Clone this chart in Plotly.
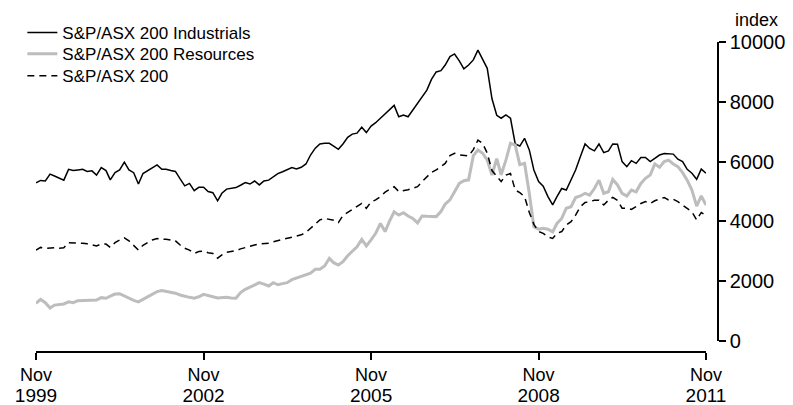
import pandas as pd
import plotly.graph_objects as go

# Monthly, Nov 1999 .. Nov 2011
months = pd.date_range("1999-11-01", "2011-11-01", freq="MS")

industrials = [
    5290, 5370, 5350, 5580, 5520, 5440, 5380, 5740, 5700, 5720,
    5740, 5670, 5690, 5550, 5800, 5700, 5390, 5630, 5720, 5980,
    5720, 5630, 5250, 5600, 5700, 5800, 5890, 5740, 5740, 5700,
    5670, 5420, 5190, 5270, 5030, 5140, 5140, 5000, 4960, 4690,
    4940, 5080, 5110, 5130, 5210, 5300, 5250, 5350, 5220, 5350,
    5380, 5490, 5600, 5660, 5720, 5800, 5750, 5810, 5920, 6220,
    6450, 6590, 6610, 6610, 6520, 6410, 6590, 6810, 6920, 6950,
    7150, 6970, 7190, 7300, 7450, 7600, 7750, 7880, 7500, 7560,
    7500, 7720, 7950, 8170, 8390, 8750, 9000, 9040, 9230, 9510,
    9600, 9370, 9100, 9230, 9400, 9730, 9400, 9120, 8100, 7550,
    7450, 7560, 7450, 6590, 6520, 6780, 6390, 5720, 5330, 5180,
    4830, 4550, 4830, 5100, 5050, 5380, 5720, 6160, 6590, 6440,
    6360, 6590, 6300, 6360, 6590, 6580, 6000, 5830, 6030, 5940,
    6140, 6140, 6000, 6110, 6220, 6270, 6260, 6250, 6080, 6000,
    5740, 5610, 5410, 5750, 5610,
]

resources = [
    1260, 1390, 1280, 1100, 1200, 1230, 1240, 1310, 1280, 1350,
    1350, 1360, 1370, 1370, 1450, 1430, 1500, 1570, 1580, 1500,
    1450, 1360, 1310, 1390, 1500, 1580, 1650, 1690, 1660, 1630,
    1600, 1540, 1490, 1460, 1430, 1480, 1560, 1530, 1480, 1440,
    1450, 1460, 1440, 1430, 1620, 1730, 1800, 1880, 1950, 1900,
    1840, 1950, 1880, 1920, 1950, 2050, 2110, 2150, 2210, 2270,
    2400, 2400, 2510, 2760, 2620, 2540, 2650, 2850, 3000, 3150,
    3400, 3180, 3380, 3600, 3930, 3660, 4000, 4320, 4210, 4290,
    4180, 4100, 3950, 4180, 4170, 4160, 4160, 4330, 4580, 4720,
    4990, 5270, 5360, 5390, 6200, 6390, 6280, 6050, 5550, 6100,
    5560, 6050, 6610, 6550, 5900, 5940, 4940, 3820, 3740, 3770,
    3740, 3650, 3930, 4100, 4440, 4490, 4800, 4850, 4940, 4880,
    5100, 5380, 4940, 4990, 5400, 5220, 4940, 4850, 5050, 4990,
    5270, 5440, 5550, 5920, 5810, 6000, 6050, 5920, 5830, 5630,
    5380, 5050, 4510, 4850, 4550,
]

asx200 = [
    3040, 3130, 3100, 3110, 3120, 3100, 3120, 3290, 3290, 3280,
    3270, 3250, 3210, 3180, 3240, 3240, 3130, 3290, 3380, 3450,
    3350, 3210, 3040, 3200, 3300, 3380, 3430, 3400, 3400, 3370,
    3350, 3210, 3100, 3040, 2930, 2990, 3010, 2950, 2930, 2770,
    2880, 2970, 3000, 3020, 3080, 3130, 3180, 3210, 3250, 3260,
    3270, 3320, 3360, 3380, 3430, 3490, 3510, 3550, 3630, 3770,
    3900, 4050, 4100, 4080, 4040, 3960, 4200, 4300, 4400, 4480,
    4600, 4440, 4650, 4720, 4830, 4980, 5070, 5160, 5000, 5020,
    5060, 5110, 5160, 5330, 5500, 5640, 5720, 5830, 5940, 6200,
    6280, 6220, 6200, 6190, 6400, 6720, 6610, 6280, 5700, 5500,
    5330, 5550, 5600, 5050, 4960, 4830, 4300, 3900, 3660, 3600,
    3480, 3430, 3600, 3660, 3880, 3990, 4210, 4490, 4630, 4660,
    4710, 4710, 4550, 4710, 4800, 4700, 4440, 4440, 4400, 4500,
    4600, 4660, 4600, 4690, 4740, 4800, 4720, 4740, 4660, 4550,
    4440, 4320, 4050, 4300, 4200,
]

x_tick_vals = ["1999-11-01", "2002-11-01", "2005-11-01", "2008-11-01", "2011-11-01"]
x_tick_months = ["Nov"] * 5
x_tick_years = ["1999", "2002", "2005", "2008", "2011"]
y_tick_vals = [0, 2000, 4000, 6000, 8000, 10000]

FONT = "Liberation Sans, Arial, sans-serif"
X_RANGE = ["1999-11-01", "2011-11-01"]

fig = go.Figure()
fig.add_trace(go.Scatter(x=months, y=industrials, mode="lines",
                         name="S&P/ASX 200 Industrials", legend="legend",
                         line=dict(color="black", width=1.5)))
fig.add_trace(go.Scatter(x=months, y=resources, mode="lines",
                         name="S&P/ASX 200 Resources", legend="legend2",
                         line=dict(color="#bdbdbd", width=3)))
fig.add_trace(go.Scatter(x=months, y=asx200, mode="lines",
                         name="S&P/ASX 200", legend="legend3",
                         xaxis="x2", yaxis="y",
                         line=dict(color="black", width=1.5, dash="7px,5px")))

leg_common = dict(x=-0.02, xanchor="left", yanchor="top",
                  font=dict(size=17), bgcolor="rgba(0,0,0,0)", itemclick=False)

fig.update_layout(
    width=785, height=397,
    margin=dict(l=28, r=75, t=34, b=53, autoexpand=False),
    paper_bgcolor="white", plot_bgcolor="white",
    font=dict(family=FONT, size=20, color="black"),
    showlegend=True,
    legend=dict(y=1.087, **leg_common),
    legend2=dict(y=1.019, **leg_common),
    legend3=dict(y=0.948, **leg_common),
    xaxis=dict(domain=[0, 0.9824], anchor="free", position=0,
               range=X_RANGE, automargin=False,
               showgrid=False, zeroline=False,
               showline=True, linecolor="black", linewidth=1.5,
               ticks="outside", ticklen=7, tickwidth=1.5, tickcolor="black",
               tickfont=dict(size=18),
               tickmode="array", tickvals=x_tick_vals, ticktext=x_tick_months),
    xaxis2=dict(domain=[0, 0.9824], anchor="free", position=0,
                overlaying="x", matches="x", range=X_RANGE, automargin=False,
                showgrid=False, zeroline=False, showline=False,
                ticks="outside", ticklen=7, tickcolor="rgba(0,0,0,0)",
                ticklabelstandoff=19,
                tickfont=dict(size=19),
                tickmode="array", tickvals=x_tick_vals, ticktext=x_tick_years),
    yaxis=dict(domain=[0.0355, 1], side="right", anchor="free", position=1,
               range=[0, 10000], automargin=False,
               showgrid=False, zeroline=False,
               showline=True, linecolor="black", linewidth=1.5,
               ticks="outside", ticklen=7, tickwidth=1.5, tickcolor="black",
               tickmode="array", tickvals=y_tick_vals,
               ticktext=[str(v) for v in y_tick_vals]),
    annotations=[dict(text="index", xref="paper", yref="paper",
                      x=1.022, y=1.071, xanchor="left", yanchor="middle",
                      showarrow=False, font=dict(size=18))],
)

fig.write_html("out.html")
